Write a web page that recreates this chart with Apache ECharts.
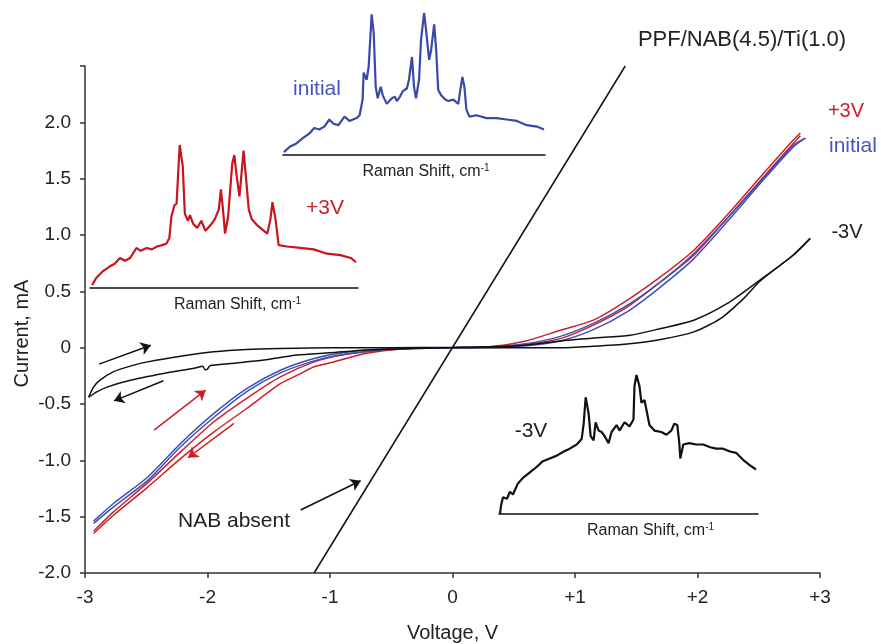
<!DOCTYPE html>
<html><head><meta charset="utf-8">
<script src="https://cdn.jsdelivr.net/npm/echarts@6/dist/echarts.min.js"></script>
<style>html,body{margin:0;padding:0;background:#fff}#c{width:881px;height:644px}</style>
</head><body><div id="c"></div>
<script>
// ---------- data ----------
const xTickLabels = ['-3', '-2', '-1', '0', '+1', '+2', '+3'];
const yTickLabels = ['-2.0', '-1.5', '-1.0', '-0.5', '0', '0.5', '1.0', '1.5', '2.0', ''];

// I-V curves [Voltage (V), Current (mA)]
const minus3VUpper = [[-2.97,-0.44],[-2.93,-0.35],[-2.88,-0.29],[-2.77,-0.215],[-2.63,-0.164],[-2.49,-0.126],[-2.22,-0.076],[-1.95,-0.037],[-1.68,-0.016],[-1.41,-0.007],[-1.0,0.0],[-0.5,0.0],[0,0.003],[0.5,0.015],[0.66,0.03],[0.94,0.066],[1.15,0.085],[1.45,0.11],[1.7,0.17],[1.97,0.244],[2.24,0.39],[2.51,0.6],[2.78,0.82],[2.92,0.97]];
const minus3VLower = [[-2.97,-0.44],[-2.90,-0.39],[-2.82,-0.35],[-2.63,-0.29],[-2.36,-0.23],[-2.1,-0.18],[-2.04,-0.165],[-2.02,-0.195],[-2.0,-0.19],[-1.98,-0.16],[-1.81,-0.14],[-1.54,-0.11],[-1.27,-0.065],[-1.0,-0.045],[-0.7,-0.02],[-0.4,-0.01],[0,0],[0.5,0.0],[0.88,0.0],[1.15,0.013],[1.425,0.033],[1.7,0.073],[1.97,0.14],[2.19,0.26],[2.38,0.44],[2.51,0.59],[2.78,0.82],[2.92,0.97]];
const initialUpper = [[-2.93,-1.54],[-2.77,-1.385],[-2.49,-1.15],[-2.22,-0.85],[-1.95,-0.585],[-1.68,-0.363],[-1.405,-0.2],[-1.13,-0.096],[-0.9,-0.045],[-0.6,-0.015],[-0.3,-0.004],[0,0],[0.3,0.005],[0.6,0.035],[0.88,0.1],[1.15,0.215],[1.425,0.376],[1.7,0.585],[1.97,0.835],[2.24,1.145],[2.51,1.47],[2.78,1.795],[2.88,1.86]];
const initialLower = [[-2.93,-1.56],[-2.77,-1.415],[-2.49,-1.18],[-2.22,-0.88],[-1.95,-0.62],[-1.68,-0.39],[-1.405,-0.224],[-1.13,-0.117],[-0.9,-0.06],[-0.6,-0.022],[-0.3,-0.006],[0,0],[0.3,0.002],[0.6,0.018],[0.88,0.06],[1.15,0.16],[1.425,0.318],[1.7,0.54],[1.97,0.79],[2.24,1.115],[2.51,1.455],[2.78,1.78],[2.88,1.86]];
const plus3VUpper = [[-2.93,-1.63],[-2.77,-1.46],[-2.49,-1.2],[-2.22,-0.925],[-1.95,-0.66],[-1.68,-0.45],[-1.405,-0.26],[-1.13,-0.126],[-0.9,-0.065],[-0.6,-0.025],[-0.3,-0.006],[0,0],[0.3,0.008],[0.6,0.06],[0.88,0.155],[1.15,0.244],[1.425,0.42],[1.7,0.63],[1.97,0.865],[2.24,1.175],[2.51,1.51],[2.78,1.84],[2.84,1.905]];
const plus3VLower = [[-2.93,-1.65],[-2.77,-1.49],[-2.49,-1.24],[-2.22,-0.985],[-1.95,-0.75],[-1.68,-0.54],[-1.405,-0.32],[-1.24,-0.23],[-1.13,-0.17],[-0.98,-0.13],[-0.7,-0.05],[-0.42,-0.012],[0,0],[0.3,0.005],[0.6,0.03],[0.88,0.08],[1.15,0.2],[1.425,0.36],[1.7,0.585],[1.97,0.82],[2.24,1.145],[2.51,1.48],[2.78,1.81],[2.84,1.88]];
const nabAbsent = [[-1.13,-2.0],[1.41,2.5]];

// sweep-direction arrows [start, end] in (V, mA)
const minus3VArrows = [[[-2.885,-0.146],[-2.463,0.022]], [[-2.36,-0.294],[-2.763,-0.472]]];
const plus3VArrows = [[[-2.436,-0.732],[-2.015,-0.377]], [[-1.784,-0.672],[-2.159,-0.977]]];
const nabArrow = [[[-1.24,-1.441],[-0.75,-1.181]]];

// Raman spectra [Raman shift (cm-1), intensity (a.u.)]
const ramanInitial = [[705,2],[735,6],[765,8],[800,12],[830,15],[855,19],[880,18],[905,20],[930,25],[950,22],[975,21],[1005,27],[1030,24],[1065,26],[1080,28],[1095,39],[1100,58],[1115,53],[1125,62],[1140,99],[1150,86],[1160,48],[1170,40],[1185,48],[1195,42],[1215,36],[1240,40],[1255,41],[1265,38],[1280,41],[1295,45],[1315,47],[1325,53],[1340,69],[1350,48],[1360,40],[1375,53],[1385,81],[1400,100],[1410,88],[1425,67],[1435,74],[1450,92],[1460,74],[1470,46],[1485,42],[1505,39],[1520,38],[1545,39],[1570,36],[1580,46],[1590,55],[1600,48],[1610,32],[1625,27],[1660,28],[1710,26],[1760,26],[1810,25],[1860,24],[1910,21],[1960,20],[1995,18]];
const ramanPlus3V = [[710,2],[730,7],[765,12],[795,15],[820,17],[845,21],[870,19],[895,21],[925,28],[945,26],[975,28],[1000,27],[1025,29],[1050,30],[1070,31],[1085,35],[1095,50],[1110,58],[1120,59],[1135,100],[1150,85],[1160,52],[1175,47],[1185,51],[1200,45],[1220,42],[1240,47],[1260,40],[1285,44],[1305,48],[1325,55],[1335,69],[1345,55],[1355,38],[1370,50],[1390,87],[1400,93],[1410,80],[1425,64],[1435,80],[1445,96],[1455,80],[1470,55],[1485,48],[1510,44],[1535,41],[1560,38],[1575,48],[1585,60],[1600,48],[1615,30],[1655,29],[1720,28],[1785,27],[1850,24],[1915,23],[1965,21],[1990,18]];
const ramanMinus3V = [[705,0],[710,6],[720,12],[740,11],[755,16],[770,14],[795,22],[820,26],[855,30],[890,34],[920,38],[955,40],[990,42],[1025,45],[1055,47],[1090,50],[1115,54],[1125,65],[1135,84],[1150,72],[1160,56],[1175,53],[1185,66],[1200,60],[1215,59],[1230,56],[1250,51],[1265,59],[1290,64],[1305,60],[1330,66],[1355,63],[1375,68],[1380,92],[1390,100],[1405,92],[1415,80],[1430,82],[1440,75],[1455,64],[1480,60],[1515,59],[1540,57],[1565,60],[1580,65],[1595,64],[1605,51],[1610,40],[1625,50],[1655,51],[1690,50],[1725,50],[1760,48],[1790,47],[1825,47],[1860,45],[1890,44],[1925,39],[1960,35],[1990,32]];

// ---------- styling ----------
const FONT = '"Liberation Sans", Arial, Helvetica, sans-serif';
const RED = '#cc1f27', BLUE = '#3b52b4', BLACK = '#111111', AXIS = '#333333', TXT = '#222222';

function ivSeries(data, color, z) {
  return { type: 'line', data: data, xAxisIndex: 0, yAxisIndex: 0, showSymbol: false, smooth: 0.25,
    lineStyle: { color: color, width: 1.5 }, itemStyle: { color: color }, z: z, silent: true };
}
function arrowMark(list, color) {
  return { silent: true, symbol: ['none', 'arrow'], symbolSize: 10, label: { show: false },
    lineStyle: { color: color, width: 1.5, type: 'solid' }, emphasis: { disabled: true },
    data: list.map(p => [{ coord: p[0] }, { coord: p[1] }]) };
}
function ramanSeries(idx, data, color) {
  return { type: 'line', data: data, xAxisIndex: idx, yAxisIndex: idx, showSymbol: false,
    lineStyle: { color: color, width: 2.2 }, itemStyle: { color: color }, silent: true, z: 5 };
}
function insetX(idx, padLeft) {
  return { gridIndex: idx, type: 'value', min: 700, max: 2000,
    axisLine: { onZero: false, lineStyle: { color: BLACK, width: 1.5 } },
    axisTick: { show: false }, axisLabel: { show: false }, splitLine: { show: false },
    name: 'Raman Shift, cm{s|-1}', nameLocation: 'middle', nameGap: 8,
    nameTextStyle: { fontFamily: FONT, fontSize: 16, color: TXT, padding: [0, 0, 0, padLeft],
      rich: { s: { fontFamily: FONT, fontSize: 10, color: TXT, verticalAlign: 'top', padding: [0, 0, 7, 0] } } } };
}
function insetY(idx) {
  return { gridIndex: idx, type: 'value', min: 0, max: 100, show: false };
}
function label(text, x, y, color, size, align) {
  return { type: 'text', x: x, y: y, silent: true, z: 20,
    style: { text: text, fill: color, font: size + 'px ' + FONT,
      align: align || 'center', verticalAlign: 'middle', textAlign: align || 'center', textVerticalAlign: 'middle' } };
}

const chart = echarts.init(document.getElementById('c'), null, { renderer: 'canvas' });
chart.setOption({
  animation: false,
  backgroundColor: '#ffffff',
  textStyle: { fontFamily: FONT },
  grid: [
    { left: 85, right: 61, top: 66, bottom: 71, outerBoundsMode: 'none', containLabel: false },
    { left: 283, top: 13, width: 262, height: 142, outerBoundsMode: 'none', containLabel: false },
    { left: 90, top: 145, width: 268, height: 143, outerBoundsMode: 'none', containLabel: false },
    { left: 499, top: 375, width: 259, height: 139, outerBoundsMode: 'none', containLabel: false }
  ],
  xAxis: [
    { gridIndex: 0, type: 'value', min: -3, max: 3, interval: 1,
      axisLine: { onZero: false, lineStyle: { color: AXIS, width: 1.5 } },
      axisTick: { show: true, length: 5, lineStyle: { color: AXIS, width: 1.5 } },
      splitLine: { show: false },
      axisLabel: { fontFamily: FONT, fontSize: 19, color: TXT, margin: 15,
        formatter: v => xTickLabels[Math.round(v) + 3] },
      name: 'Voltage, V', nameLocation: 'middle', nameGap: 50, nameMoveOverlap: false,
      nameTextStyle: { fontFamily: FONT, fontSize: 20, color: TXT } },
    insetX(1, 24), insetX(2, 27), insetX(3, 44)
  ],
  yAxis: [
    { gridIndex: 0, type: 'value', min: -2, max: 2.5, interval: 0.5,
      axisLine: { onZero: false, lineStyle: { color: AXIS, width: 1.5 } },
      axisTick: { show: true, length: 5, lineStyle: { color: AXIS, width: 1.5 } },
      splitLine: { show: false },
      axisLabel: { fontFamily: FONT, fontSize: 19, color: TXT, margin: 14,
        formatter: v => yTickLabels[Math.round((v + 2) * 2)] },
      name: 'Current, mA', nameLocation: 'middle', nameRotate: 90, nameGap: 53, nameMoveOverlap: false,
      nameTextStyle: { fontFamily: FONT, fontSize: 20, color: TXT, padding: [0, 28, 0, 0] } },
    insetY(1), insetY(2), insetY(3)
  ],
  series: [
    Object.assign(ivSeries(plus3VLower, RED, 2), { markLine: arrowMark(plus3VArrows, RED) }),
    ivSeries(plus3VUpper, RED, 2),
    ivSeries(initialLower, BLUE, 3),
    ivSeries(initialUpper, BLUE, 3),
    Object.assign(ivSeries(minus3VUpper, BLACK, 4), { markLine: arrowMark(minus3VArrows, BLACK) }),
    ivSeries(minus3VLower, BLACK, 4),
    Object.assign({ type: 'line', data: nabAbsent, xAxisIndex: 0, yAxisIndex: 0, showSymbol: false,
      lineStyle: { color: BLACK, width: 1.5 }, itemStyle: { color: BLACK }, z: 4, silent: true },
      { markLine: arrowMark(nabArrow, BLACK) }),
    ramanSeries(1, ramanInitial, '#3a48aa'),
    ramanSeries(2, ramanPlus3V, '#c8141e'),
    ramanSeries(3, ramanMinus3V, BLACK)
  ],
  graphic: [
    label('PPF/NAB(4.5)/Ti(1.0)', 742, 40, TXT, 22),
    label('+3V', 846, 111, RED, 20),
    label('initial', 829, 146, '#4656b8', 21, 'left'),
    label('-3V', 847, 232, TXT, 20),
    label('NAB absent', 234, 521, TXT, 21),
    label('initial', 317, 89, '#4656b8', 21),
    label('+3V', 325, 208, RED, 21),
    label('-3V', 531, 431, TXT, 21)
  ]
});
</script>
</body></html>
